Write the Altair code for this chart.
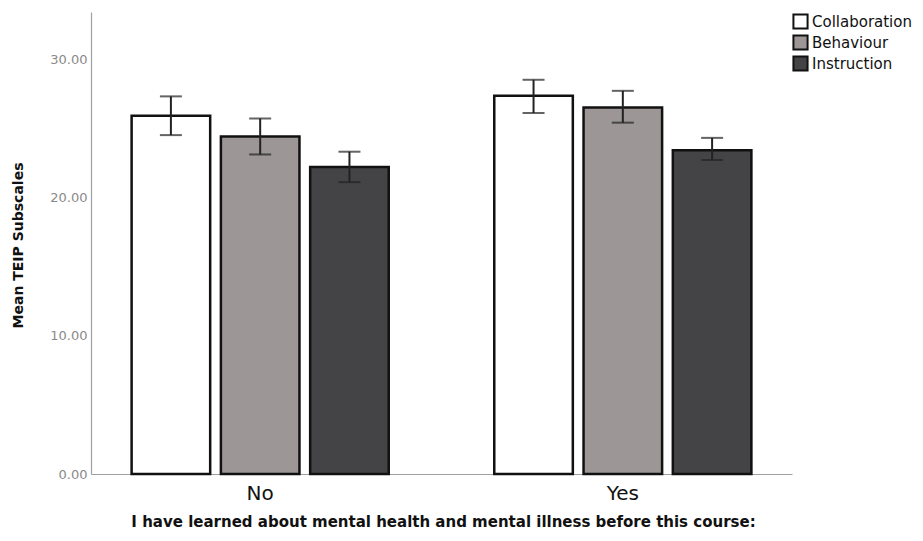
import altair as alt
import pandas as pd

groups = ["No", "Yes"]
subscales = ["Collaboration", "Behaviour", "Instruction"]
mean_no = [25.9, 24.4, 22.2]
mean_yes = [27.35, 26.5, 23.4]
lo_no = [24.5, 23.1, 21.1]
hi_no = [27.3, 25.7, 23.3]
lo_yes = [26.1, 25.4, 22.7]
hi_yes = [28.5, 27.7, 24.3]
colors = ["#ffffff", "#9c9696", "#444446"]

rows = []
for g, means, los, his in [("No", mean_no, lo_no, hi_no), ("Yes", mean_yes, lo_yes, hi_yes)]:
    for s, m, lo, hi in zip(subscales, means, los, his):
        rows.append({"group": g, "sub": s, "mean": m, "lo": lo, "hi": hi})
df = pd.DataFrame(rows)

FONT = "DejaVu Sans"

x = alt.X("group:N", sort=groups,
          scale=alt.Scale(paddingInner=0.291, paddingOuter=0.112),
          axis=alt.Axis(title="I have learned about mental health and mental illness before this course:",
                        labelAngle=0, labelFontSize=20, labelColor="#111111", labelPadding=9,
                        labelFont=FONT, ticks=False, tickSize=0,
                        domainColor="#a0a0a0", domainWidth=1.2,
                        titleFont=FONT, titleFontSize=15, titleFontWeight="bold", titleColor="#111111",
                        titleX=352, titleY=47, titleAlign="center", titleBaseline="middle"))
xo = alt.XOffset("sub:N", sort=subscales, scale=alt.Scale(paddingInner=0.12, paddingOuter=0.0))

yscale = alt.Scale(domain=[0, 33.4], nice=False, zero=True)
yaxis = alt.Axis(title="Mean TEIP Subscales", values=[0, 10, 20, 30], format=".2f",
                 labelFontSize=13, labelColor="#8a8a8a", labelFont=FONT, labelPadding=4,
                 ticks=False, tickSize=0, grid=False,
                 domainColor="#a0a0a0", domainWidth=1.2,
                 titleFont=FONT, titleFontSize=14, titleFontWeight="bold", titleColor="#111111",
                 titleX=-73, titleY=233, titleAngle=270, titleAlign="center", titleBaseline="middle")

base = alt.Chart(df)

bars = base.mark_bar(stroke="#111111", strokeWidth=2.5).encode(
    x=x, xOffset=xo,
    y=alt.Y("mean:Q", scale=yscale, axis=yaxis),
    fill=alt.Fill("sub:N", sort=subscales,
                  scale=alt.Scale(domain=subscales, range=colors),
                  legend=alt.Legend(title=None, orient="none", legendX=701, legendY=1,
                                    symbolType="square", symbolSize=200,
                                    symbolStrokeColor="#111111", symbolStrokeWidth=2,
                                    labelFont=FONT, labelFontSize=15, labelColor="#111111",
                                    labelOffset=3, rowPadding=-2)),
)

rules = base.mark_rule(color="#222222", strokeWidth=2).encode(
    x=x, xOffset=xo, y=alt.Y("lo:Q", scale=yscale), y2="hi:Q")
cap_lo = base.mark_tick(color="#222222", thickness=2, size=22, orient="horizontal").encode(
    x=x, xOffset=xo, y=alt.Y("lo:Q", scale=yscale))
cap_hi = base.mark_tick(color="#222222", thickness=2, size=22, orient="horizontal").encode(
    x=x, xOffset=xo, y=alt.Y("hi:Q", scale=yscale))

chart = alt.layer(bars, rules, cap_lo, cap_hi).properties(
    width=701, height=462,
    background="white",
    autosize=alt.AutoSizeParams(type="none"),
    padding={"left": 83, "top": 4, "right": 123, "bottom": 55},
).configure_view(strokeWidth=0, stroke=None)

chart.save("out.html", embed_options={"renderer": "svg", "actions": False})
